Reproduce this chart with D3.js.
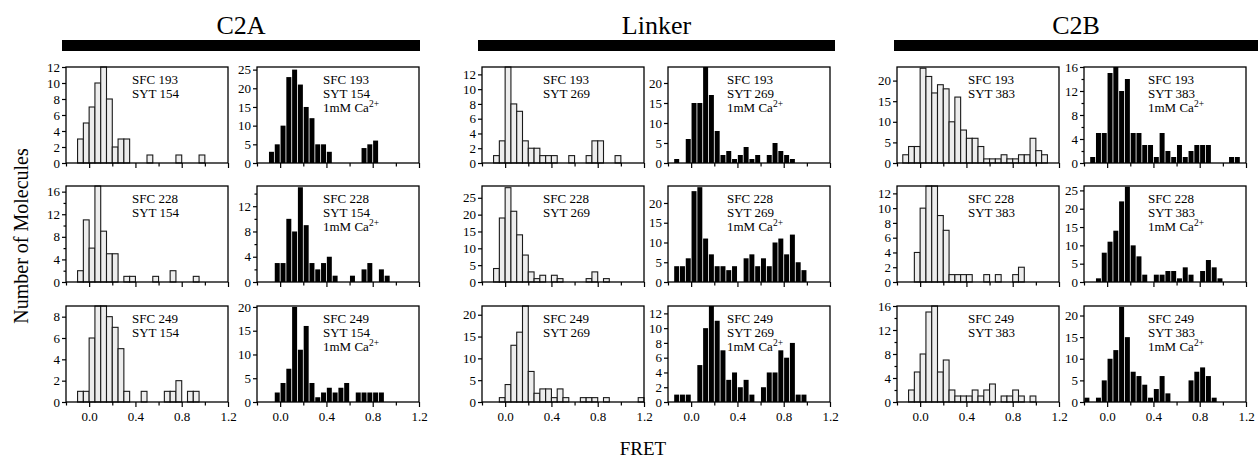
<!DOCTYPE html>
<html><head><meta charset="utf-8">
<script src="https://cdn.jsdelivr.net/npm/d3@7"></script>
<style>
body{margin:0;background:#fff}
svg text{font-family:"Liberation Serif","Times New Roman",serif;fill:#000}
</style>
</head><body><svg id="c" width="1260" height="460"></svg>
<script>
// ---- data ----
const binStarts = [-0.2,-0.15,-0.1,-0.05,0.0,0.05,0.1,0.15,0.2,0.25,0.3,0.35,0.4,0.45,0.5,0.55,0.6,0.65,0.7,0.75,0.8,0.85,0.9,0.95,1.0,1.05,1.1,1.15];
const binWidth = 0.05;
const groupTitles = ["C2A","Linker","C2B"];
const sfcLabels = ["SFC 193","SFC 228","SFC 249"];
const sytLabels = ["SYT 154","SYT 269","SYT 383"];
const caLabel = ["1mM Ca","2+"];
const xMajorTicks = [0.0,0.4,0.8,1.2];
const xMajorLabels = ["0.0","0.4","0.8","1.2"];
const xMinorTicks = [-0.2,0.2,0.6,1.0];
const xTitle = "FRET";
const yTitle = "Number of Molecules";

// counts per bin (no Ca / 1mM Ca)
const c2a193 =    [0,0,3,5,7,10,12,8,2,3,3,0,0,0,1,0,0,0,0,1,0,0,0,1,0,0,0,0];
const c2a193Ca =  [0,0,3,5,10,23,25,21,15,12,5,5,3,0,0,0,0,0,4,5,6,0,0,0,0,0,0,0];
const c2a228 =    [0,0,2,11,6,17,9,5,5,0,1,1,0,0,0,1,0,0,2,0,0,0,1,0,0,0,0,0];
const c2a228Ca =  [0,0,0,3,3,10,8,15,9,3,2,3,4,1,0,0,1,0,2,3,0,2,1,0,0,0,0,0];
const c2a249 =    [0,0,1,1,6,9,9,8,7,5,1,0,0,1,0,0,0,1,1,2,0,1,1,0,0,0,0,0];
const c2a249Ca =  [0,0,0,2,4,7,20,11,16,4,1,2,3,2,3,4,0,2,2,2,2,2,0,0,0,0,0,0];

const lnk193 =    [0,0,1,3,13,8,7,3,2,2,1,1,1,0,0,1,0,0,1,3,3,0,0,1,0,0,0,0];
const lnk193Ca =  [0,1,0,6,15,15,24,17,8,2,3,1,2,4,1,2,0,2,5,3,2,1,0,0,0,0,0,0];
const lnk228 =    [0,0,4,19,28,21,14,8,3,1,2,0,2,1,0,0,0,0,1,3,0,1,0,0,0,0,0,0];
const lnk228Ca =  [0,4,4,6,23,24,11,7,4,4,3,4,0,6,7,4,6,4,10,11,7,12,5,3,0,0,0,0];
const lnk249 =    [0,0,0,1,4,13,16,22,7,2,3,3,1,3,1,0,0,1,1,1,0,1,0,0,0,0,0,1];
const lnk249Ca =  [0,1,1,1,0,5,10,13,11,7,3,4,2,3,1,0,2,4,4,7,6,8,1,1,0,0,0,0];

const c2b193 =    [0,2,4,4,23,21,17,19,18,10,16,8,6,6,4,1,1,1,2,1,1,2,2,6,3,2,0,0];
const c2b193Ca =  [0,1,5,5,15,16,12,14,5,5,3,3,1,5,2,1,3,1,2,3,3,3,0,0,0,1,1,0];
const c2b228 =    [0,0,0,4,10,13,13,9,7,1,1,1,1,0,0,1,0,1,0,0,1,2,0,0,0,0,0,0];
const c2b228Ca =  [0,0,1,8,11,14,22,26,10,7,2,0,2,2,3,3,1,4,2,0,3,6,4,1,0,0,0,0];
const c2b249 =    [0,0,2,5,8,15,16,5,7,2,1,1,1,2,1,2,3,0,1,1,2,1,0,1,0,0,0,0];
const c2b249Ca =  [1,0,1,5,10,12,22,15,7,6,4,1,3,6,2,0,0,0,5,7,8,6,1,0,0,0,0,0];

// y axis max and tick step, order: row1 noCa, row1 Ca, row2 noCa, row2 Ca, row3 noCa, row3 Ca
const yMaxC2A = [12,25.7,17,15.2,9,20.2];
const yStepC2A = [2,5,4,4,2,5];
const yMaxLnk = [13,24,28.5,24.3,22,13];
const yStepLnk = [2,5,5,5,5,2];
const yMaxC2B = [23.3,16,13,26.2,16,22.2];
const yStepC2B = [5,4,2,5,4,5];

// ---- layout ----
const svg = d3.select("#c");
const W = 162, H = 96;
const groupLeft = [[66,257],[482,668],[897,1084]];
const textOff = [[66,66],[61,59],[71,64]];
const rowTop = [67,186,306];
const titleBar = [[62,420],[478,835],[894,1258]];

const series = [
  [c2a193,c2a193Ca,c2a228,c2a228Ca,c2a249,c2a249Ca],
  [lnk193,lnk193Ca,lnk228,lnk228Ca,lnk249,lnk249Ca],
  [c2b193,c2b193Ca,c2b228,c2b228Ca,c2b249,c2b249Ca]
];
const yMaxes = [yMaxC2A,yMaxLnk,yMaxC2B];
const ySteps = [yStepC2A,yStepLnk,yStepC2B];

function styleAxis(g, size){
  g.attr("font-family","Liberation Serif, Times New Roman, serif").attr("font-size",size);
  g.selectAll(".domain").remove();
  g.selectAll(".tick line").attr("stroke","#000").attr("stroke-width",1.2);
  g.selectAll(".tick text").attr("fill","#000");
}

function drawPanel(gi, row, col){
  const k = row*2+col;
  const counts = series[gi][k];
  const ymax = yMaxes[gi][k], step = ySteps[gi][k];
  const dark = col===1;
  const x0 = groupLeft[gi][col], y0 = rowTop[row];
  const x = d3.scaleLinear().domain([-0.2,1.2]).range([x0,x0+W]);
  const y = d3.scaleLinear().domain([0,ymax]).range([y0+H,y0]);
  const g = svg.append("g");
  const data = binStarts.map((b,i)=>({b,c:counts[i]})).filter(d=>d.c>0);
  g.selectAll("rect.bar").data(data).join("rect").attr("class","bar")
    .attr("x",d=>x(d.b)+(dark?0.4:0))
    .attr("width",d=>x(d.b+binWidth)-x(d.b)-(dark?0.8:0))
    .attr("y",d=>y(Math.min(d.c,ymax)))
    .attr("height",d=>y(0)-y(Math.min(d.c,ymax)))
    .attr("fill",dark?"#000":"#ededed")
    .attr("stroke",dark?"none":"#1a1a1a")
    .attr("stroke-width",1.1);
  // frame
  g.append("rect").attr("x",x0).attr("y",y0).attr("width",W).attr("height",H)
    .attr("fill","none").attr("stroke","#000").attr("stroke-width",1.3);
  // y axis
  const yt = d3.range(0,ymax+1e-6,step);
  const ya = g.append("g").attr("transform",`translate(${x0},0)`)
    .call(d3.axisLeft(y).tickValues(yt).tickSize(4).tickPadding(2).tickFormat(d3.format("d")));
  styleAxis(ya,13);
  if(step===4){
    const ym = g.append("g").attr("transform",`translate(${x0},0)`)
      .call(d3.axisLeft(y).tickValues(yt.map(v=>v+step/2).filter(v=>v<ymax)).tickSize(2.5).tickFormat(""));
    styleAxis(ym,12);
  }
  // x axis
  const bottom = row===2;
  const xa = g.append("g").attr("transform",`translate(0,${y0+H})`)
    .call(d3.axisBottom(x).tickValues(xMajorTicks).tickSize(5).tickPadding(5)
      .tickFormat((d,i)=>bottom?xMajorLabels[i]:""));
  styleAxis(xa,13);
  const xm = g.append("g").attr("transform",`translate(0,${y0+H})`)
    .call(d3.axisBottom(x).tickValues(xMinorTicks).tickSize(3.5).tickFormat(""));
  styleAxis(xm,12);
  // annotation
  const tx = x0+textOff[gi][col];
  const t = g.append("g").attr("font-size",13);
  t.append("text").attr("x",tx).attr("y",y0+17).text(sfcLabels[row]);
  t.append("text").attr("x",tx).attr("y",y0+31).text(sytLabels[gi]);
  if(dark){
    const ca = t.append("text").attr("x",tx).attr("y",y0+45);
    ca.append("tspan").text(caLabel[0]);
    ca.append("tspan").attr("dy",-5).attr("font-size",9.5).text(caLabel[1]);
  }
}

for(let gi=0;gi<3;gi++){
  for(let row=0;row<3;row++) for(let col=0;col<2;col++) drawPanel(gi,row,col);
  const cx = (titleBar[gi][0]+titleBar[gi][1])/2;
  svg.append("text").attr("x",cx).attr("y",34).attr("text-anchor","middle")
    .attr("font-size",26).text(groupTitles[gi]);
  svg.append("rect").attr("x",titleBar[gi][0]).attr("y",40)
    .attr("width",titleBar[gi][1]-titleBar[gi][0]).attr("height",11).attr("fill","#000");
}

svg.append("text").attr("transform","translate(28,236) rotate(-90)")
  .attr("text-anchor","middle").attr("font-size",20).text(yTitle);
svg.append("text").attr("x",643).attr("y",455).attr("text-anchor","middle")
  .attr("font-size",19).text(xTitle);
</script>
</body></html>
